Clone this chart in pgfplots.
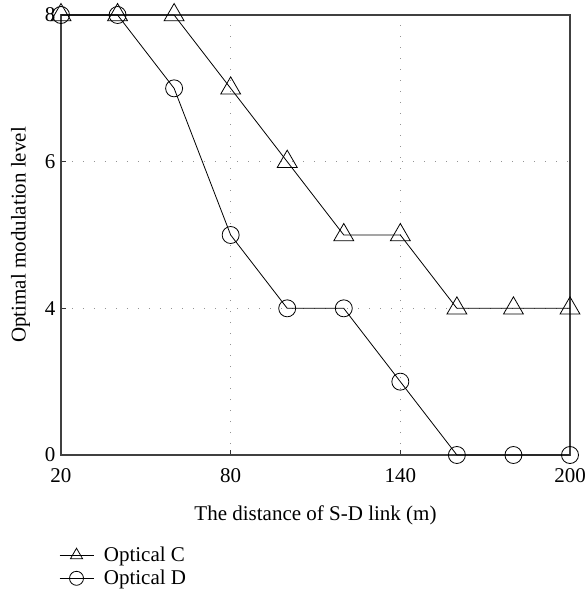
\documentclass[border=0pt]{standalone}
\usepackage{pgfplots}
\pgfplotsset{compat=1.18}
\usepackage{fontspec}
\setmainfont{Liberation Serif}
\begin{document}
\begin{tikzpicture}
\useasboundingbox (-61pt,-137pt) rectangle (524pt,455pt);
\begin{axis}[
  scale only axis,
  width=509pt, height=440pt,
  xmin=20, xmax=200, ymin=0, ymax=8,
  y coord trafo/.code={\pgfmathparse{(#1<=4)?(#1/4):(1+(#1-4)/2)}},
  xtick={20,80,140,200},
  ytick={0,4,6,8},
  yticklabels={0,4,6,8},
  /pgf/number format/assume math mode=true,
  tick label style={font=\fontsize{21}{24}\selectfont},
  label style={font=\fontsize{21}{24}\selectfont},
  tick align=inside,
  major tick length=5pt,
  tick style={black!80, line width=0.6pt},
  xticklabel style={yshift=-10pt},
  yticklabel style={xshift=-2pt},
  xtick pos=bottom, ytick pos=left,
  grid=major,
  major grid style={gray!85, line width=1pt, dash pattern=on 1pt off 10pt},
  axis line style={black!75, line width=1.2pt},
  xlabel={The distance of S-D link (m)},
  ylabel={Optimal modulation level},
  ylabel style={yshift=8pt},
  xlabel style={yshift=-16pt},
  clip=false,
  legend style={draw=none, fill=none, at={(axis description cs:-0.01,-0.20)}, anchor=north west,
    font=\fontsize{21}{24}\selectfont, row sep=3pt, legend cell align=left,
    nodes={inner xsep=10pt}},
  legend image code/.code={\draw[mark repeat=2,mark phase=2,#1,mark size=7pt] plot coordinates {(0pt,0pt)(17pt,0pt)(34pt,0pt)};},
]
\addplot[black, line width=0.8pt, mark=triangle, mark size=11.5pt, mark options={solid, line width=0.8pt, fill=none}]
  coordinates {(20,8)(40,8)(60,8)(80,7)(100,6)(120,5)(140,5)(160,4)(180,4)(200,4)};
\addlegendentry{Optical C}
\addplot[black, line width=0.8pt, mark=o, mark size=8.5pt, mark options={solid, line width=0.8pt}]
  coordinates {(20,8)(40,8)(60,7)(80,5)(100,4)(120,4)(140,2)(160,0)(180,0)(200,0)};
\addlegendentry{Optical D}
\end{axis}
\end{tikzpicture}
\end{document}
